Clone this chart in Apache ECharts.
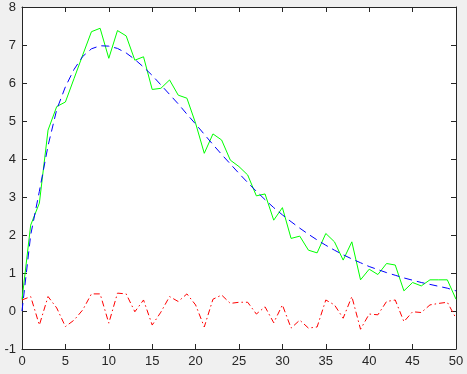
<!DOCTYPE html>
<html>
<head>
<meta charset="utf-8">
<script src="https://cdn.jsdelivr.net/npm/echarts@6/dist/echarts.min.js"></script>
<style>
  html, body { margin: 0; padding: 0; background: #f0f0f0; }
  #chart { width: 467px; height: 374px; }
</style>
</head>
<body>
<div id="chart"></div>
<script>
// x positions 0..50
const xs = [0,1,2,3,4,5,6,7,8,9,10,11,12,13,14,15,16,17,18,19,20,21,22,23,24,25,26,27,28,29,30,31,32,33,34,35,36,37,38,39,40,41,42,43,44,45,46,47,48,49,50]
// noisy measurements (green)
const measured = [0.3,2.26,2.84,4.76,5.38,5.5,6.12,6.74,7.35,7.44,6.65,7.38,7.24,6.6,6.69,5.83,5.86,6.08,5.68,5.6,4.94,4.15,4.66,4.5,3.97,3.8,3.58,3.03,3.08,2.39,2.72,1.91,1.97,1.6,1.53,2.04,1.82,1.34,1.82,0.82,1.1,0.96,1.25,1.21,0.53,0.75,0.66,0.82,0.82,0.82,0.31]
// fitted curve (blue dashed)
const fitted = [0,2.0,3.15,4.35,5.3,5.9,6.36,6.7,6.9,6.98,6.97,6.91,6.79,6.62,6.42,6.2,5.95,5.7,5.45,5.18,4.92,4.65,4.38,4.12,3.87,3.62,3.38,3.15,2.93,2.72,2.53,2.35,2.18,2.02,1.87,1.73,1.6,1.48,1.37,1.27,1.17,1.09,1.01,0.94,0.87,0.81,0.75,0.7,0.65,0.6,0.53]
// residuals (red dash-dot)
const residual = [0.29,0.38,-0.37,0.38,0.08,-0.41,-0.24,0.03,0.45,0.45,-0.32,0.47,0.45,-0.02,0.29,-0.37,-0.03,0.38,0.25,0.45,0.16,-0.42,0.31,0.42,0.2,0.23,0.23,-0.08,0.11,-0.31,0.16,-0.45,-0.24,-0.45,-0.42,0.29,0.16,-0.19,0.38,-0.48,-0.08,-0.1,0.25,0.29,-0.28,-0.02,-0.04,0.16,0.2,0.23,-0.19]

const pairs = arr => xs.map((x, i) => [x, arr[i]])

const axisColor = '#262626'
const labelStyle = { color: axisColor, fontSize: 13, fontFamily: 'Liberation Sans, Arial, sans-serif' }
const tick = { show: true, inside: true, length: 5, lineStyle: { color: axisColor } }
const line = { show: true, onZero: false, lineStyle: { color: axisColor, width: 1 } }

const chart = echarts.init(document.getElementById('chart'))
chart.setOption({
  backgroundColor: '#f0f0f0',
  animation: false,
  grid: { left: 22, right: 11, top: 7, bottom: 25, show: true, backgroundColor: '#fff', borderWidth: 0 },
  xAxis: [
    { type: 'value', min: 0, max: 50, interval: 5, position: 'bottom', axisLine: line, axisTick: tick,
      axisLabel: Object.assign({ margin: 6 }, labelStyle), splitLine: { show: false } },
    { type: 'value', min: 0, max: 50, interval: 5, position: 'top', axisLine: line, axisTick: tick,
      axisLabel: { show: false }, splitLine: { show: false } }
  ],
  yAxis: [
    { type: 'value', min: -1, max: 8, interval: 1, position: 'left', axisLine: line, axisTick: tick,
      axisLabel: Object.assign({ margin: 6 }, labelStyle), splitLine: { show: false } },
    { type: 'value', min: -1, max: 8, interval: 1, position: 'right', axisLine: line, axisTick: tick,
      axisLabel: { show: false }, splitLine: { show: false } }
  ],
  series: [
    { type: 'line', data: pairs(measured), symbol: 'none', lineStyle: { color: '#00ff00', width: 1 } },
    { type: 'line', data: pairs(fitted), symbol: 'none', lineStyle: { color: '#0000ff', width: 1, type: [8, 5] } },
    { type: 'line', data: pairs(residual), symbol: 'none', lineStyle: { color: '#ff0000', width: 1, type: [6, 3, 1.5, 3] } }
  ]
})
</script>
</body>
</html>
